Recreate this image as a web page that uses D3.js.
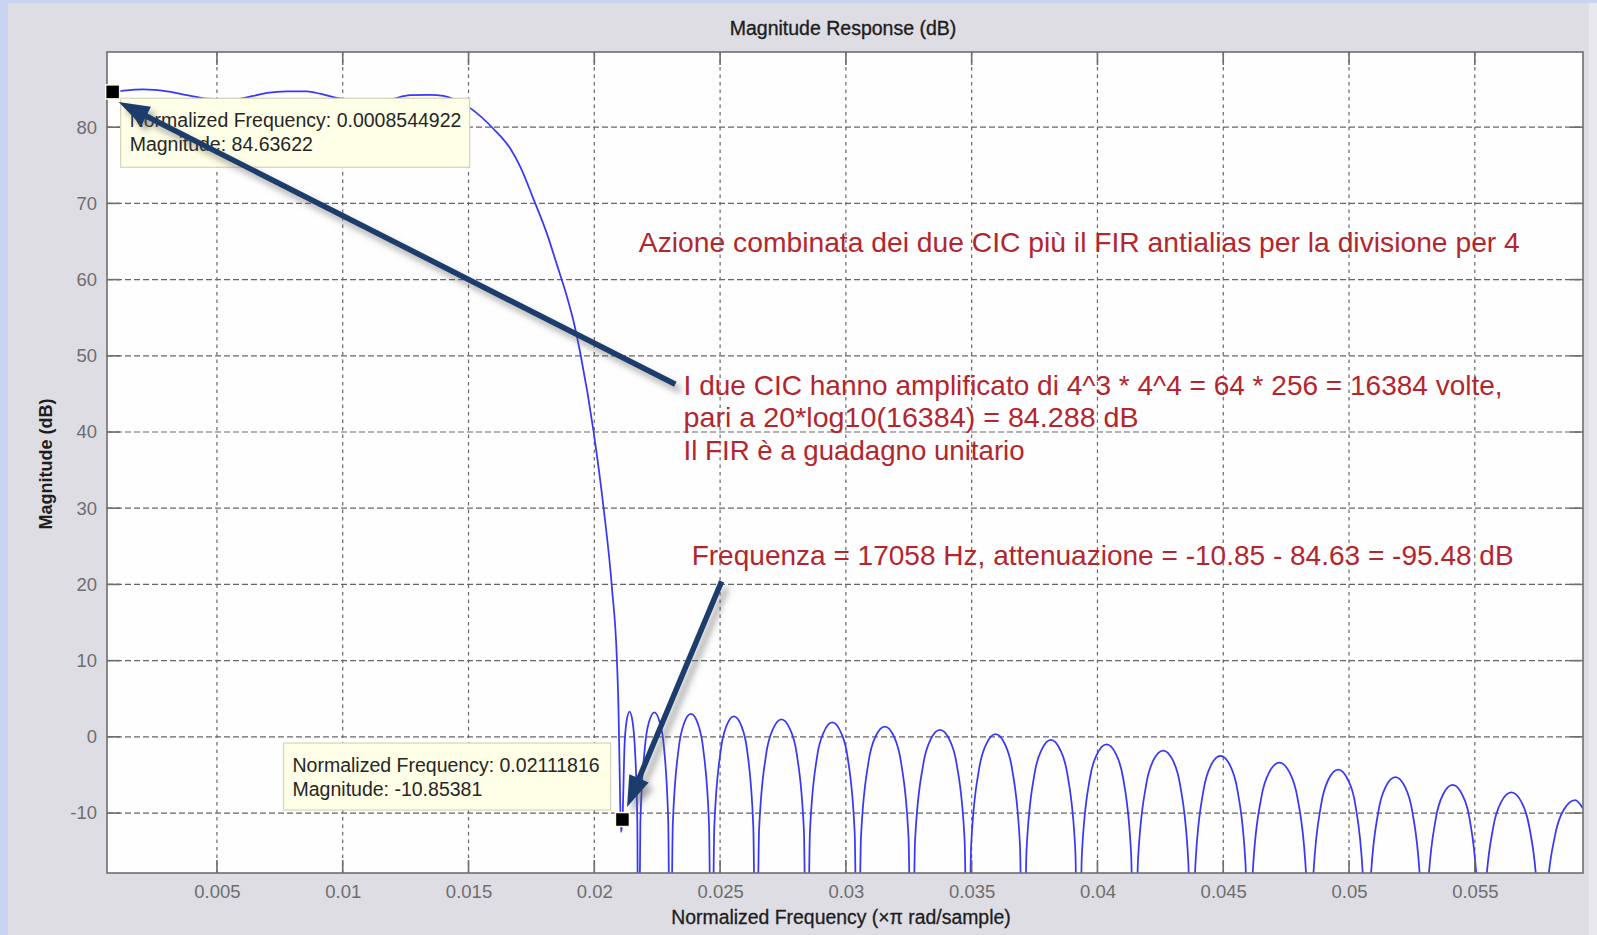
<!DOCTYPE html>
<html><head><meta charset="utf-8">
<script src="https://cdn.jsdelivr.net/npm/d3@7"></script>
<style>html,body{margin:0;padding:0;background:#c9d4f0;} svg{display:block;}</style>
</head><body>
<svg id="chart" width="1597" height="935"></svg>
<script>
// ---------- data ----------
const xTicks = [0.005,0.01,0.015,0.02,0.025,0.03,0.035,0.04,0.045,0.05,0.055];
const xTickLabels = ["0.005","0.01","0.015","0.02","0.025","0.03","0.035","0.04","0.045","0.05","0.055"];
const yTicks = [80,70,60,50,40,30,20,10,0,-10];
const yTickLabels = ["80","70","60","50","40","30","20","10","0","-10"];

// normalized frequency (x pi rad/sample)
const freq = [
 0.00063,0.00085,0.00129,0.00207,0.00301,0.00381,0.0046,0.00565,0.00644,0.00699,0.00778,0.00858,0.0091,0.00963,0.01017,0.0110,0.01189,0.01268,0.01348,0.014,0.0144,0.01475,
 0.01507,0.01599,0.01666,0.01706,0.01758,0.01812,0.01851,0.01891,0.01917,0.01944,0.01997,0.02037,0.0207,0.0209,0.02096,0.02101,
 0.02106,0.02112,0.0212,0.02128,0.0214,0.02152,0.02161,0.02171,0.02175,
 0.02183,0.02201,0.02217,0.02239,0.0226,0.02277,0.02294,0.02302,
 0.02312,0.02335,0.02356,0.02384,0.02412,0.02433,0.02456,0.02466,
 0.02477,0.02502,0.02525,0.02555,0.02585,0.02608,0.02632,0.02643,
 0.02655,0.02683,0.0271,0.02744,0.02778,0.02805,0.02833,0.02845,
 0.02857,0.02885,0.02912,0.02946,0.0298,0.03007,0.03035,0.03047,
 0.0306,0.0309,0.03118,0.03155,0.03191,0.03219,0.03249,0.03262,
 0.03275,0.03307,0.03336,0.03374,0.03412,0.03441,0.03472,0.03485,
 0.03498,0.03529,0.03558,0.03595,0.03632,0.03661,0.03692,0.03705,
 0.03718,0.03749,0.03778,0.03815,0.03852,0.03881,0.03912,0.03925,
 0.03938,0.03969,0.03998,0.04036,0.04074,0.04103,0.04134,0.04147,
 0.04161,0.04193,0.04222,0.04261,0.043,0.04329,0.04361,0.04375,
 0.04389,0.04421,0.0445,0.04489,0.04528,0.04557,0.04589,0.04603,
 0.04617,0.04651,0.04682,0.04723,0.04764,0.04795,0.04829,0.04843,
 0.04857,0.04889,0.04918,0.04957,0.04995,0.05025,0.05056,0.0507,
 0.05084,0.05116,0.05145,0.05184,0.05223,0.05252,0.05284,0.05298,
 0.05312,0.05344,0.05373,0.05412,0.0545,0.0548,0.05511,0.05525,
 0.05539,0.05573,0.05604,0.05645,0.05686,0.05717,0.05751,0.05765,
 0.05781,0.05819,0.05853,0.05899,0.0593
];
// magnitude (dB)
const magDb = [
 84.55,84.64,84.8,84.95,84.7,84.2,83.75,83.65,84.1,84.5,84.7,84.7,84.4,83.95,83.65,83.3,83.65,84.2,84.25,84.1,83.7,83.2,
 82.5,79.8,77.2,74.8,70.6,66.0,62.0,57.8,54.6,50.4,40.1,30.0,19.6,10.0,3.9,-5.0,
 -12.5,-10.85,-1.3,2.0,3.3,2.0,-1.3,-11.2,-40,
 -11.3,-1.4,1.9,3.2,1.9,-1.4,-11.3,-40,
 -11.5,-1.6,1.7,3.0,1.7,-1.6,-11.5,-40,
 -11.8,-1.9,1.4,2.7,1.4,-1.9,-11.8,-40,
 -12.2,-2.3,1.0,2.3,1.0,-2.3,-12.2,-40,
 -12.6,-2.7,0.6,1.9,0.6,-2.7,-12.6,-40,
 -13.2,-3.3,0.05,1.35,0.05,-3.3,-13.2,-40,
 -13.6,-3.7,-0.4,0.9,-0.4,-3.7,-13.6,-40,
 -14.2,-4.3,-0.95,0.35,-0.95,-4.3,-14.2,-40,
 -14.9,-5.0,-1.7,-0.4,-1.7,-5.0,-14.9,-40,
 -15.5,-5.6,-2.3,-1.0,-2.3,-5.6,-15.5,-40,
 -16.3,-6.4,-3.1,-1.8,-3.1,-6.4,-16.3,-40,
 -17.0,-7.1,-3.8,-2.5,-3.8,-7.1,-17.0,-40,
 -17.9,-8.0,-4.7,-3.4,-4.7,-8.0,-17.9,-40,
 -18.8,-8.9,-5.6,-4.3,-5.6,-8.9,-18.8,-40,
 -19.8,-9.9,-6.6,-5.3,-6.6,-9.9,-19.8,-40,
 -20.8,-10.9,-7.6,-6.3,-7.6,-10.9,-20.8,-40,
 -21.8,-11.9,-8.6,-7.3,-8.6,-11.9,-21.8,-40,
 -22.8,-12.9,-9.6,-8.3,-9.4
];

const tipFreq = [0.0008544922, 0.02111816];
const tipMag = [84.63622, -10.85381];
const tipLines = [
 ["Normalized Frequency: 0.0008544922","Magnitude: 84.63622"],
 ["Normalized Frequency: 0.02111816","Magnitude: -10.85381"]
];

const noteTexts = [
 "Azione combinata dei due CIC più il FIR antialias per la divisione per 4",
 "I due CIC hanno amplificato di 4^3 * 4^4 = 64 * 256 = 16384 volte,",
 "pari a 20*log10(16384) = 84.288 dB",
 "Il FIR è a guadagno unitario",
 "Frequenza = 17058 Hz, attenuazione = -10.85 - 84.63 = -95.48 dB"
];
const noteFreq = [0.02177, 0.02355, 0.02355, 0.02355, 0.02387];
const noteDb = [63.6, 44.8, 40.6, 36.3, 22.5];

const arrowFrom = [[0.02322, 46.26],[0.02506, 20.4]];
const arrowTo = [[0.00109, 83.3],[0.0213, -9.21]];

// ---------- layout ----------
const W = 1597, H = 935;
const FONT = "'Liberation Sans', Arial, Helvetica, sans-serif";
const plot = {left:107, top:52, right:1583, bottom:873};
const x = d3.scaleLinear().domain([0.00063, 0.0593]).range([plot.left, plot.right]);
const y = d3.scaleLinear().domain([-17.87, 89.87]).range([plot.bottom, plot.top]);
const noteWidths = [881, 819, 455, 341, 822];

const svg = d3.select('#chart');
const defs = svg.append('defs');
defs.append('clipPath').attr('id','clip').append('rect')
  .attr('x',plot.left).attr('y',plot.top).attr('width',plot.right-plot.left).attr('height',plot.bottom-plot.top);
const sh = defs.append('filter').attr('id','shadow').attr('x','-30%').attr('y','-30%').attr('width','160%').attr('height','160%');
sh.append('feDropShadow').attr('dx',5).attr('dy',6).attr('stdDeviation',3).attr('flood-color','#555').attr('flood-opacity',0.5);

// backgrounds
svg.append('rect').attr('width',W).attr('height',H).attr('fill','#c9d4f0');
svg.append('rect').attr('x',8).attr('y',3).attr('width',1581).attr('height',H-3).attr('fill','#dddde3');
svg.append('rect').attr('x',1589).attr('y',3).attr('width',8).attr('height',H-3).attr('fill','#e8e8ed');
svg.append('rect').attr('x',plot.left).attr('y',plot.top).attr('width',plot.right-plot.left).attr('height',plot.bottom-plot.top).attr('fill','#fefefe');

// grid
const grid = svg.append('g');
grid.selectAll('line.gx').data(xTicks).join('line').attr('class','gx')
  .attr('x1',d=>x(d)).attr('x2',d=>x(d)).attr('y1',plot.top).attr('y2',plot.bottom)
  .attr('stroke','#666').attr('stroke-width',1.2).attr('stroke-dasharray','3.5,4');
grid.selectAll('line.gy').data(yTicks).join('line').attr('class','gy')
  .attr('x1',plot.left).attr('x2',plot.right).attr('y1',d=>y(d)).attr('y2',d=>y(d))
  .attr('stroke','#666').attr('stroke-width',1.2).attr('stroke-dasharray','6,3');

// curve
const line = d3.line().x((d,i)=>x(freq[i])).y((d,i)=>y(magDb[i])).curve(d3.curveMonotoneX);
svg.append('path').attr('clip-path','url(#clip)').datum(freq)
  .attr('d',line).attr('fill','none').attr('stroke','#3838f6').attr('stroke-width',1.75);

// ticks inside on all 4 sides
const tl = 13;
const tk = svg.append('g').attr('stroke','#6e6e6e').attr('stroke-width',1.6);
xTicks.forEach(d=>{
  tk.append('line').attr('x1',x(d)).attr('x2',x(d)).attr('y1',plot.bottom).attr('y2',plot.bottom-tl);
  tk.append('line').attr('x1',x(d)).attr('x2',x(d)).attr('y1',plot.top).attr('y2',plot.top+tl);
});
yTicks.forEach(d=>{
  tk.append('line').attr('y1',y(d)).attr('y2',y(d)).attr('x1',plot.left).attr('x2',plot.left+tl);
  tk.append('line').attr('y1',y(d)).attr('y2',y(d)).attr('x1',plot.right).attr('x2',plot.right-tl);
});
svg.append('rect').attr('x',plot.left).attr('y',plot.top).attr('width',plot.right-plot.left).attr('height',plot.bottom-plot.top)
  .attr('fill','none').attr('stroke','#6e6e6e').attr('stroke-width',1.6);

// axes (labels)
const xAxis = d3.axisBottom(x).tickValues(xTicks).tickFormat((d,i)=>xTickLabels[i]).tickSize(0).tickPadding(12);
svg.append('g').attr('transform',`translate(0,${plot.bottom})`).call(xAxis)
  .call(g=>g.select('.domain').remove())
  .attr('font-family',FONT).attr('font-size',18.5)
  .selectAll('text').attr('fill','#6e6e6e');
const yAxis = d3.axisLeft(y).tickValues(yTicks).tickFormat((d,i)=>yTickLabels[i]).tickSize(0).tickPadding(10);
svg.append('g').attr('transform',`translate(${plot.left},0)`).call(yAxis)
  .call(g=>g.select('.domain').remove())
  .attr('font-family',FONT).attr('font-size',18.5)
  .selectAll('text').attr('fill','#6e6e6e');

// titles
svg.append('text').attr('x',843).attr('y',35).attr('text-anchor','middle')
  .attr('font-family',FONT).attr('font-size',19.5).attr('fill','#1e1e1e').attr('stroke','#1e1e1e').attr('stroke-width',0.35)
  .text('Magnitude Response (dB)');
svg.append('text').attr('x',841).attr('y',924).attr('text-anchor','middle')
  .attr('font-family',FONT).attr('font-size',19.4).attr('fill','#1e1e1e').attr('stroke','#1e1e1e').attr('stroke-width',0.3)
  .text('Normalized Frequency (\u00d7\u03c0 rad/sample)');
svg.append('text').attr('transform','translate(52,464) rotate(-90)').attr('text-anchor','middle')
  .attr('font-family',FONT).attr('font-size',18).attr('font-weight','bold').attr('fill','#1e1e1e')
  .text('Magnitude (dB)');

// annotations (red text)
svg.append('g').selectAll('text').data(noteTexts).join('text')
  .attr('x',(d,i)=>x(noteFreq[i])).attr('y',(d,i)=>y(noteDb[i]))
  .attr('font-family',FONT).attr('font-size',28).attr('fill','#b3262e')
  .attr('textLength',(d,i)=>noteWidths[i]).attr('lengthAdjust','spacingAndGlyphs')
  .text(d=>d);

// data tips boxes
const boxOff = [[8,6.4,349,69],[-338.9,-76.5,327,67]];
const tips = svg.append('g');
tipFreq.forEach((f,i)=>{
  const mx = x(f), my = y(tipMag[i]);
  const [ox,oy,bw,bh] = boxOff[i];
  const bx = mx+ox, by = my+oy;
  tips.append('rect').attr('x',bx).attr('y',by).attr('width',bw).attr('height',bh)
    .attr('fill','#fffee6').attr('stroke','#d4d4bc').attr('stroke-width',1.2);
  tipLines[i].forEach((t,j)=>{
    tips.append('text').attr('x',bx+9).attr('y',by+28.5+j*24.5)
      .attr('font-family',FONT).attr('font-size',19.5).attr('fill','#262626').text(t);
  });
});

// arrows
const arr = svg.append('g').attr('filter','url(#shadow)');
arrowFrom.forEach((fr,i)=>{
  const x1=x(fr[0]), y1=y(fr[1]), x2=x(arrowTo[i][0]), y2=y(arrowTo[i][1]);
  const dx=x2-x1, dy=y2-y1, L=Math.hypot(dx,dy), ux=dx/L, uy=dy/L;
  const hl=31, hw=10.5;
  const bx=x2-ux*hl, by=y2-uy*hl;
  arr.append('line').attr('x1',x1).attr('y1',y1).attr('x2',bx+ux*4).attr('y2',by+uy*4)
    .attr('stroke','#1d3e6c').attr('stroke-width',5.5);
  arr.append('path').attr('d',`M${x2},${y2}L${bx-uy*hw},${by+ux*hw}L${bx+uy*hw},${by-ux*hw}Z`)
    .attr('fill','#1d3e6c');
});

// markers
svg.append('g').selectAll('rect').data(tipFreq).join('rect')
  .attr('x',(d)=>x(d)-7).attr('y',(d,i)=>y(tipMag[i])-7).attr('width',14).attr('height',14)
  .attr('fill','#000').attr('stroke','#fffbe0').attr('stroke-width',1.5);
</script>
</body></html>
